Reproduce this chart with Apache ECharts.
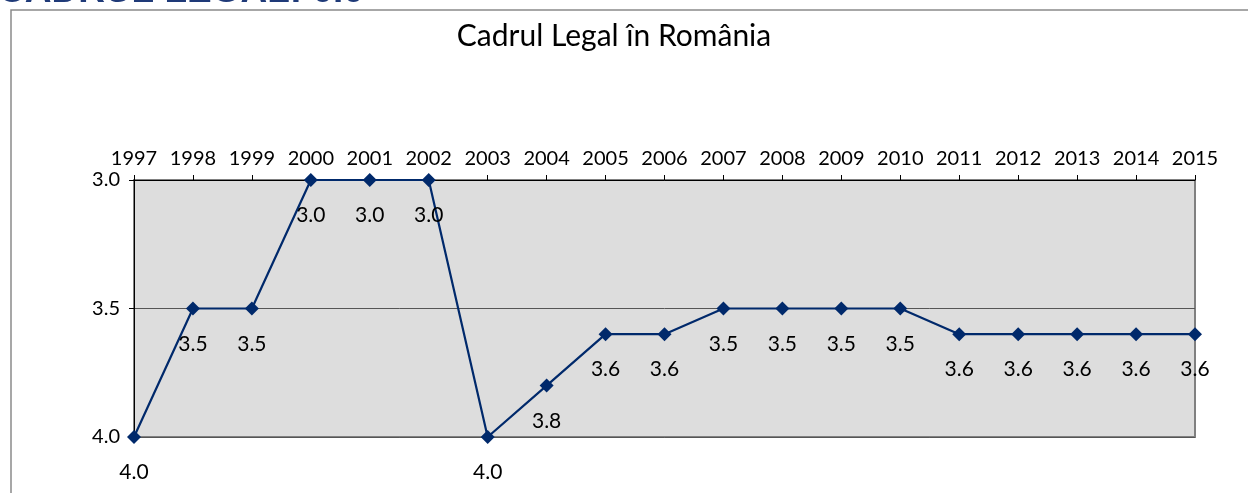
<!DOCTYPE html>
<html>
<head>
<meta charset="utf-8">
<script src="https://cdn.jsdelivr.net/npm/echarts@6/dist/echarts.min.js"></script>
<style>
  html, body { margin: 0; padding: 0; background: #fff; }
  #chart { width: 1248px; height: 493px; }
</style>
</head>
<body>
<div id="chart"></div>
<script>
// date
const years = ["1997", "1998", "1999", "2000", "2001", "2002", "2003", "2004", "2005", "2006",
  "2007", "2008", "2009", "2010", "2011", "2012", "2013", "2014", "2015"];
const scores = [4.0, 3.5, 3.5, 3.0, 3.0, 3.0, 4.0, 3.8, 3.6, 3.6,
  3.5, 3.5, 3.5, 3.5, 3.6, 3.6, 3.6, 3.6, 3.6];
const chartTitle = "Cadrul Legal în România";
const slideHeading = "CADRUL LEGAL: 0.0";

const font = "Lato, 'Open Sans', sans-serif";
const chart = echarts.init(document.getElementById("chart"));

const option = {
  animation: false,
  textStyle: { fontFamily: font },
  title: {
    text: chartTitle,
    left: 609,
    textAlign: "center",
    top: 16,
    textStyle: { fontFamily: font, fontSize: 30, fontWeight: "normal", color: "#000" },
  },
  graphic: [
    {
      type: "text",
      left: -2,
      top: -27,
      style: {
        text: slideHeading,
        font: "bold 37px 'Liberation Sans', sans-serif",
        fill: "#1F3A78",
      },
    },
    {
      type: "polyline",
      shape: { points: [[11, 493], [11, 10], [1248, 10]] },
      style: { stroke: "#8a8a8a", lineWidth: 1.5, fill: null },
    },
  ],
  grid: {
    left: 134,
    right: 53,
    top: 180,
    bottom: 56,
    show: true,
    backgroundColor: "#DDDDDD",
    borderColor: "#808080",
    borderWidth: 2,
  },
  xAxis: {
    type: "category",
    data: years,
    position: "top",
    boundaryGap: false,
    axisLine: { lineStyle: { color: "#000", width: 1 } },
    axisTick: { show: true, length: 5, interval: 0, lineStyle: { color: "#000" } },
    axisLabel: { color: "#000", fontSize: 20, margin: 11, interval: 0, hideOverlap: false, fontFamily: font },
    splitLine: { show: false },
  },
  yAxis: {
    type: "value",
    inverse: true,
    min: 3,
    max: 4,
    interval: 0.5,
    axisLine: { show: true, lineStyle: { color: "#000", width: 1 } },
    axisTick: { show: true, length: 5, lineStyle: { color: "#000" } },
    axisLabel: {
      color: "#000",
      fontSize: 20,
      margin: 14,
      fontFamily: font,
      formatter: (v) => v.toFixed(1),
    },
    splitLine: { show: true, lineStyle: { color: "#555", width: 1 } },
  },
  series: [
    {
      type: "line",
      data: scores,
      symbol: "diamond",
      symbolSize: 14,
      lineStyle: { color: "#00296B", width: 2.2 },
      itemStyle: { color: "#00296B" },
      label: {
        show: true,
        position: "bottom",
        distance: 18,
        color: "#000",
        fontSize: 21,
        fontFamily: font,
        formatter: (p) => p.value.toFixed(1),
      },
    },
  ],
};

chart.setOption(option);
</script>
</body>
</html>
